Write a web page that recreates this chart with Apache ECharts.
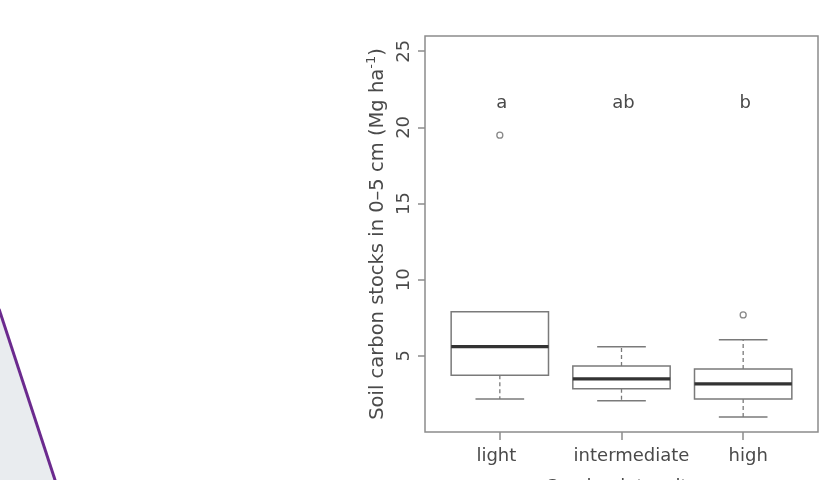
<!DOCTYPE html>
<html><head><meta charset="utf-8">
<script src="https://cdn.jsdelivr.net/npm/echarts@6/dist/echarts.min.js"></script>
<style>html,body{margin:0;padding:0;background:#fff}#c{width:819px;height:480px}</style>
</head><body><div id="c"></div>
<script>
// ---- data ----
const categories = ['light', 'intermediate', 'high'];
const lowerWhisker = [2.16, 2.05, 0.98];
const q1 = [3.73, 2.84, 2.16];
const median = [5.61, 3.49, 3.16];
const q3 = [7.90, 4.34, 4.13];
const upperWhisker = [7.90, 5.59, 6.05];
const outlierCategory = [0, 2];
const outlierValue = [19.49, 7.69];
const letters = ['a', 'ab', 'b'];
const letterValue = 21.6;
const yTickValues = [5, 10, 15, 20, 25];
const xTickValues = [1, 2, 3];

// ---- styles ----
const FONT = 'DejaVu Sans';
const TXT = '#4a4a4a';
const LINE = '#8c8c8c';
const BOX = '#7a7a7a';

const boxData = categories.map((c, i) => [i + 1, lowerWhisker[i], q1[i], median[i], q3[i], upperWhisker[i]]);

function renderBox(params, api) {
  const x = api.value(0);
  const bw = api.size([0.8, 0])[0];
  const cw = bw / 2;
  const cx = api.coord([x, 0])[0];
  const y = v => api.coord([x, v])[1];
  const lw = y(api.value(1)), b1 = y(api.value(2)), md = y(api.value(3)), b3 = y(api.value(4)), uw = y(api.value(5));
  const dash = { stroke: BOX, lineWidth: 1.3, lineDash: [4, 3], fill: null };
  const solid = { stroke: BOX, lineWidth: 1.5, fill: null };
  return {
    type: 'group',
    children: [
      { type: 'line', shape: { x1: cx, y1: b1, x2: cx, y2: lw }, style: dash },
      { type: 'line', shape: { x1: cx, y1: b3, x2: cx, y2: uw }, style: dash },
      { type: 'line', shape: { x1: cx - cw / 2, y1: lw, x2: cx + cw / 2, y2: lw }, style: solid },
      { type: 'line', shape: { x1: cx - cw / 2, y1: uw, x2: cx + cw / 2, y2: uw }, style: solid },
      { type: 'rect', shape: { x: cx - bw / 2, y: b3, width: bw, height: b1 - b3 }, style: { stroke: BOX, lineWidth: 1.5, fill: '#fff' } },
      { type: 'line', shape: { x1: cx - bw / 2, y1: md, x2: cx + bw / 2, y2: md }, style: { stroke: '#333', lineWidth: 3.2 } }
    ]
  };
}

const lbl = { fontFamily: FONT, fontSize: 18, color: TXT };
const chart = echarts.init(document.getElementById('c'), null, { renderer: 'canvas' });
chart.setOption({
  animation: false,
  backgroundColor: '#fff',
  textStyle: { fontFamily: FONT },
  grid: {
    left: 425, right: 1, top: 36, bottom: 48,
    show: true, borderColor: LINE, borderWidth: 1.5, backgroundColor: 'transparent',
    containLabel: false, outerBoundsMode: 'none'
  },
  xAxis: {
    type: 'value', min: 0.385, max: 3.615,
    name: 'Grazing intensity', nameLocation: 'middle', nameGap: 46,
    nameTextStyle: { fontFamily: FONT, fontSize: 18, color: TXT },
    axisLine: { show: false },
    splitLine: { show: false },
    axisTick: { show: true, inside: false, length: 8, customValues: xTickValues, lineStyle: { color: LINE, width: 1.5 } },
    axisLabel: { show: true, customValues: xTickValues, margin: 15, fontFamily: FONT, fontSize: 18, color: TXT,
      formatter: v => { const i = Math.round(v) - 1; return categories[i] ? '{c' + i + '|' + categories[i] + '}' : ''; },
      rich: {
        c0: Object.assign({ padding: [0, 7, 0, 0] }, lbl),
        c1: Object.assign({ padding: [0, 0, 0, 20] }, lbl),
        c2: Object.assign({ padding: [0, 0, 0, 10] }, lbl)
      } }
  },
  yAxis: {
    type: 'value', min: 0, max: 26,
    name: '{n|Soil carbon stocks in 0–5 cm (Mg ha}{s|-1}{n|)}',
    nameLocation: 'middle', nameGap: 37, nameRotate: 90,
    nameTextStyle: { fontFamily: FONT, color: TXT,
      rich: { n: { fontFamily: FONT, fontSize: 19.5, color: TXT, lineHeight: 23, verticalAlign: 'bottom' },
              s: { fontFamily: FONT, fontSize: 13, color: TXT, lineHeight: 23, verticalAlign: 'top' } } },
    axisLine: { show: false },
    splitLine: { show: false },
    axisTick: { show: true, inside: false, length: 7, customValues: yTickValues, lineStyle: { color: LINE, width: 1.5 } },
    axisLabel: { show: true, customValues: yTickValues, rotate: 90, margin: 12, fontFamily: FONT, fontSize: 18, color: TXT,
      formatter: v => (v === 0 ? '' : String(v)) }
  },
  series: [
    {
      type: 'custom', renderItem: renderBox, data: boxData,
      encode: { x: 0, y: [1, 2, 3, 4, 5] }, z: 2
    },
    {
      type: 'scatter', symbol: 'circle', symbolSize: 6,
      itemStyle: { color: '#fff', borderColor: '#888', borderWidth: 1.3, opacity: 1 },
      data: outlierCategory.map((c, i) => [c + 1, outlierValue[i]]), z: 3
    },
    {
      type: 'scatter', symbolSize: 0,
      itemStyle: { opacity: 1 },
      data: letters.map((l, i) => ({ name: l, value: [i + 1, letterValue] })),
      label: { show: true, position: 'inside', formatter: '{b}', fontFamily: FONT, fontSize: 18, color: TXT, opacity: 1,
        offset: [2, 0] }
    }
  ],
  graphic: [
    { type: 'polygon', shape: { points: [[0, 312], [55, 480], [0, 480]] }, style: { fill: '#e9ecef' }, z: 0 },
    { type: 'polyline', shape: { points: [[-1, 309], [56, 483]] }, style: { stroke: '#6b2a8e', lineWidth: 3, fill: null }, z: 1 }
  ]
});
</script>
</body></html>
